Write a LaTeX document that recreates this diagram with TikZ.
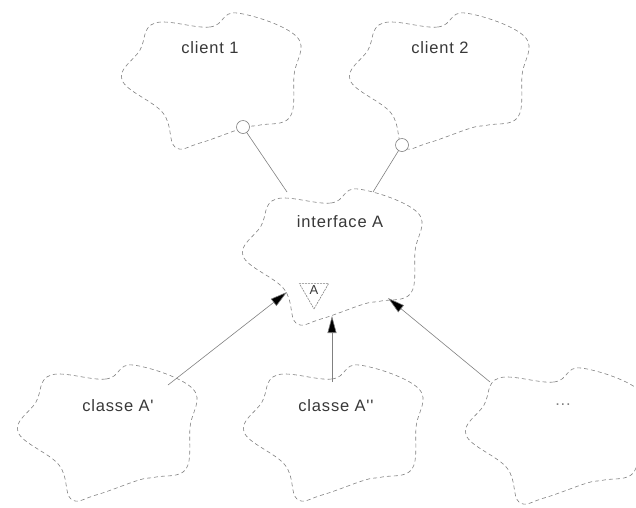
\documentclass[tikz,border=0pt]{standalone}
\usepackage{fontspec}
\newfontfamily\labfont[LetterSpace=5]{Liberation Sans}
\usetikzlibrary{arrows.meta,shapes.geometric}
\definecolor{inkgray}{gray}{0.5}
\definecolor{txtgray}{gray}{0.22}
\tikzset{
  cloudline/.style={draw=inkgray, line width=0.6pt, dash pattern=on 4pt off 3pt},
  boochcloud/.pic={
    \path[cloudline] plot[smooth cycle, tension=0.65] coordinates {
      (-53,-57) (2,-53) (29,-67) (89,-43) (86,-5) (82,37) (52,45) (35,48)
      (-8,63) (-33,67) (-45,33) (-86,0) (-68,-30)};
  },
  lab/.style={font=\labfont\fontsize{16.5}{18}\selectfont, text=txtgray, inner sep=0pt},
  lolly/.style={circle, draw=inkgray, fill=white, line width=0.6pt, minimum size=13pt, inner sep=0pt},
  uses/.style={draw=inkgray, line width=0.6pt},
  inherit/.style={draw=inkgray, line width=0.6pt, -{Triangle[length=17pt,width=9pt,fill=black]}},
  markertri/.style={regular polygon, regular polygon sides=3, shape border rotate=180,
    draw=inkgray, dash pattern=on 2pt off 1pt, line width=0.6pt, minimum size=32pt, inner sep=0pt,
    font=\labfont\fontsize{13}{14}\selectfont, text=txtgray}
}
\begin{document}
\begin{tikzpicture}[x=1pt, y=-1pt]
  \useasboundingbox (0,0) rectangle (636,507);

  % clouds
  \pic at (208,80) {boochcloud};
  \pic at (436,80) {boochcloud};
  \pic at (329,256) {boochcloud};
  \pic at (104,432) {boochcloud};
  \pic at (330,432) {boochcloud};
  \pic at (552,435) {boochcloud};

  % labels
  \node[lab] (c1) at (210,48) {client 1};
  \node[lab] (c2) at (440,48) {client 2};
  \node[lab] (ia) at (340,222) {interface A};
  \node[lab] (ca1) at (118,406) {classe A'};
  \node[lab] (ca2) at (336,406) {classe A''};
  \node[lab, text=inkgray] (dots) at (563,405) {...};

  % abstract class marker
  \node[markertri] (tri) at (314,292) {\raisebox{3pt}{A}};

  % attachment points on the cloud outlines
  \coordinate (iaTL) at (287,192);
  \coordinate (iaTR) at (373,192);
  \coordinate (iaBL) at (287,292);
  \coordinate (iaB) at (332,316);
  \coordinate (iaBR) at (388,298);
  \coordinate (ca1T) at (168,385);
  \coordinate (ca2T) at (332,382);
  \coordinate (dotsT) at (490,382);

  % client uses relations
  \draw[uses] (243,127) -- (iaTL);
  \draw[uses] (402,145) -- (iaTR);
  \node[lolly] (l1) at (243,127) {};
  \node[lolly] (l2) at (402,145) {};

  % inheritance arrows
  \draw[inherit] (ca1T) -- (iaBL);
  \draw[inherit] (ca2T) -- (iaB);
  \draw[inherit] (dotsT) -- (iaBR);
\end{tikzpicture}
\end{document}
